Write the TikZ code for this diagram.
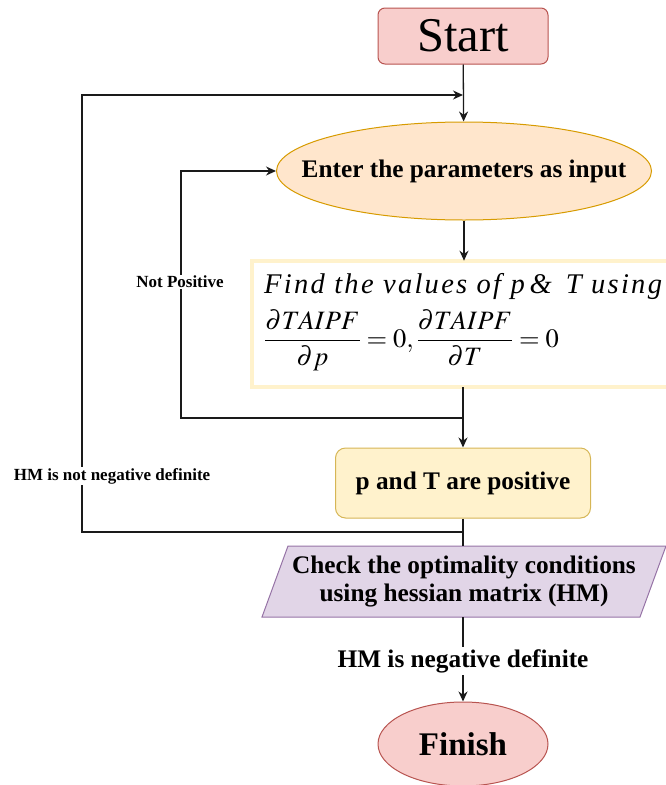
\documentclass[tikz,border=0pt]{standalone}
\usepackage{mathptmx}
\usepackage{fontspec}
\setmainfont{Liberation Serif}
\usetikzlibrary{shapes.geometric,arrows.meta}

\definecolor{pinkfill}{HTML}{F8CECC}
\definecolor{pinkline}{HTML}{B85450}
\definecolor{orangefill}{HTML}{FFE6CC}
\definecolor{orangeline}{HTML}{D79B00}
\definecolor{yellowfill}{HTML}{FFF2CC}
\definecolor{yellowline}{HTML}{D6B656}
\definecolor{purplefill}{HTML}{E1D5E7}
\definecolor{purpleline}{HTML}{9673A6}
\definecolor{wire}{HTML}{1A1A1A}

\begin{document}
\begin{tikzpicture}[x=1pt,y=-1pt,
  conn/.style={draw=wire,line width=1.3pt},
  arr/.style={conn,-{Stealth[length=10pt,width=9pt]}},
  boldtxt/.style={font=\fontsize{25.3}{28}\selectfont\bfseries},
  startbox/.style={rectangle,rounded corners=7pt,draw=pinkline,fill=pinkfill,line width=1pt,
    minimum width=170pt,minimum height=56pt,inner sep=0pt},
  inputell/.style={ellipse,draw=orangeline,fill=orangefill,line width=1pt,
    minimum width=375pt,minimum height=98pt,inner sep=0pt},
  findbox/.style={rectangle,draw=yellowline,double=yellowfill,double distance=3.5pt,line width=0.6pt,
    fill=white,minimum width=430pt,minimum height=126pt,inner sep=0pt},
  posbox/.style={rectangle,rounded corners=10pt,draw=yellowline,fill=yellowfill,line width=1pt,
    minimum width=255pt,minimum height=70pt,inner sep=0pt,boldtxt},
  checkshape/.style={draw=purpleline,fill=purplefill,line width=1pt},
  endell/.style={ellipse,draw=pinkline,fill=pinkfill,line width=1pt,
    minimum width=170pt,minimum height=84pt,inner sep=0pt},
  looplabel/.style={fill=white,inner sep=1.5pt,font=\fontsize{17}{19}\selectfont\bfseries}
]
\useasboundingbox (0,0) rectangle (665,785);

% process nodes
\node[startbox] (start) at (463,36) {\fontsize{48.5}{50}\selectfont Start};
\node[inputell] (enter) at (464,171) {};
\node[boldtxt] (entertxt) at (enter.center) {Enter the parameters as input};
\node[findbox] (find) at (467,324) {};
\node[anchor=base west,inner sep=0pt,font=\fontsize{28.5}{34}\selectfont\itshape] (findline) at (264,293)
  {\addfontfeatures{LetterSpace=8}Find the values of p\,\& \,T using};
\node[anchor=west,inner sep=0pt,font=\fontsize{26.5}{34}\selectfont] (findeq) at (264,340)
  {$\displaystyle\frac{\partial TAIPF}{\partial p}=0,\frac{\partial TAIPF}{\partial T}=0$};
\node[posbox] (pos) at (463,483) {p and T are positive};

% data (parallelogram) step
\draw[checkshape] (288,546) -- (666,546) -- (640,617) -- (262,617) -- cycle;
\node[minimum width=352pt,minimum height=71pt,inner sep=0pt] (check) at (464,581.5) {};
\node[boldtxt,align=center] (checktxt) at (check.center) {Check the optimality conditions\\using hessian matrix (HM)};

\node[endell] (finish) at (463,744) {\fontsize{33}{36}\selectfont\bfseries Finish};

% junctions on the main trunk
\coordinate (top) at (463,95);
\coordinate (mid) at (463,418);
\coordinate (low) at (463,532);

% main flow
\draw[arr] (start) -- (enter);
\draw[arr] (enter) -- (find.north -| enter.south);
\draw[arr] (find.south -| pos.north) -- (pos);
\draw[conn] (pos) -- (check.north -| pos.south);
\draw[arr] (check.south -| finish.north) -- (finish);

% feedback loops
\draw[arr] (mid) -- (181,418) |- (enter.west);
\draw[arr] (low) -- (82,532) -- (82,95) -- (top);

% labels
\node[looplabel] (notpos) at (180,282) {Not Positive};
\node[looplabel] (notneg) at (112,476) {HM is not negative definite};
\node[fill=white,inner sep=2pt,boldtxt] (neg) at (463,661) {HM is negative definite};
\end{tikzpicture}
\end{document}
